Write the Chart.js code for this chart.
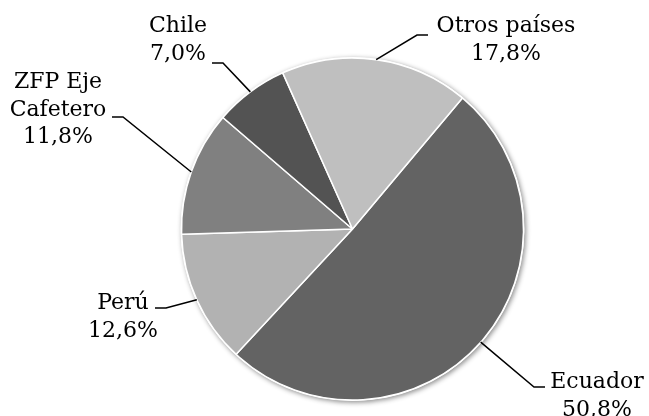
<!DOCTYPE html>
<html>
<head>
<meta charset="utf-8">
<script src="https://cdn.jsdelivr.net/npm/chart.js@4.4.1/dist/chart.umd.min.js"></script>
<style>
  html, body { margin: 0; padding: 0; background: #fff; }
  #wrap { width: 649px; height: 416px; }
</style>
</head>
<body>
<div id="wrap"><canvas id="pieChart" width="649" height="416"></canvas></div>
<script>
// Data (percent share)
const categories = ['Ecuador', 'Perú', ['ZFP Eje', 'Cafetero'], 'Chile', 'Otros países'];
const shares = [50.8, 12.6, 11.8, 7.0, 17.8];
const sliceColors = ['#636363', '#b2b2b2', '#808080', '#535353', '#bfbfbf'];

// where each label sits: text centre x, first baseline, end of the leader line
const labelSpots = [
  { x: 597, y: 388, endX: 545, endY: 387 },
  { x: 123, y: 309, endX: 155, endY: 308 },
  { x: 58,  y: 88,  endX: 112, endY: 117 },
  { x: 178, y: 32,  endX: 212, endY: 63 },
  { x: 506, y: 32,  endX: 428, endY: 35 }
];

const FONT = '22px "DejaVu Serif"';
const LINE_H = 27.5;

function fmtPct(v) {
  return v.toFixed(1).replace('.', ',') + '%';
}

// soft shadow behind the whole pie
const pieShadow = {
  id: 'pieShadow',
  beforeDatasetsDraw(chart) {
    const arc = chart.getDatasetMeta(0).data[0];
    if (!arc) return;
    const ctx = chart.ctx;
    ctx.save();
    ctx.shadowColor = 'rgba(0,0,0,0.45)';
    ctx.shadowBlur = 5;
    ctx.shadowOffsetX = 1.5;
    ctx.shadowOffsetY = 1.5;
    ctx.fillStyle = '#ffffff';
    ctx.beginPath();
    ctx.arc(arc.x, arc.y, arc.outerRadius + 1, 0, Math.PI * 2);
    ctx.fill();
    ctx.restore();
  }
};

// labels with leader lines
const outsideLabels = {
  id: 'outsideLabels',
  afterDatasetsDraw(chart) {
    const ctx = chart.ctx;
    const meta = chart.getDatasetMeta(0);
    ctx.save();
    ctx.font = FONT;
    ctx.fillStyle = '#000';
    ctx.textAlign = 'center';
    ctx.textBaseline = 'alphabetic';
    meta.data.forEach(function(arc, i) {
      const spot = labelSpots[i];
      const mid = (arc.startAngle + arc.endAngle) / 2;
      const sx = arc.x + Math.cos(mid) * arc.outerRadius;
      const sy = arc.y + Math.sin(mid) * arc.outerRadius;
      const dir = spot.endX > sx ? -1 : 1;
      const elbowX = spot.endX + dir * 11;

      ctx.strokeStyle = '#000';
      ctx.lineWidth = 1.5;
      ctx.beginPath();
      ctx.moveTo(sx, sy);
      ctx.lineTo(elbowX, spot.endY);
      ctx.lineTo(spot.endX, spot.endY);
      ctx.stroke();

      const name = categories[i];
      const lines = (Array.isArray(name) ? name : [name]).concat([fmtPct(shares[i])]);
      lines.forEach(function(t, k) {
        ctx.fillText(t, spot.x, spot.y + k * LINE_H);
      });
    });
    ctx.restore();
  }
};

const ctxPie = document.getElementById('pieChart').getContext('2d');
const pieChart = new Chart(ctxPie, {
  type: 'pie',
  data: {
    labels: categories.map(c => Array.isArray(c) ? c.join(' ') : c),
    datasets: [{
      data: shares,
      backgroundColor: sliceColors,
      borderColor: '#ffffff',
      borderWidth: 1.5
    }]
  },
  options: {
    responsive: false,
    animation: false,
    rotation: 40,
    radius: 171,
    layout: {
      padding: { left: 100, right: 44, top: 58, bottom: 16 }
    },
    plugins: {
      legend: { display: false },
      tooltip: { enabled: false }
    }
  },
  plugins: [pieShadow, outsideLabels]
});
</script>
</body>
</html>
